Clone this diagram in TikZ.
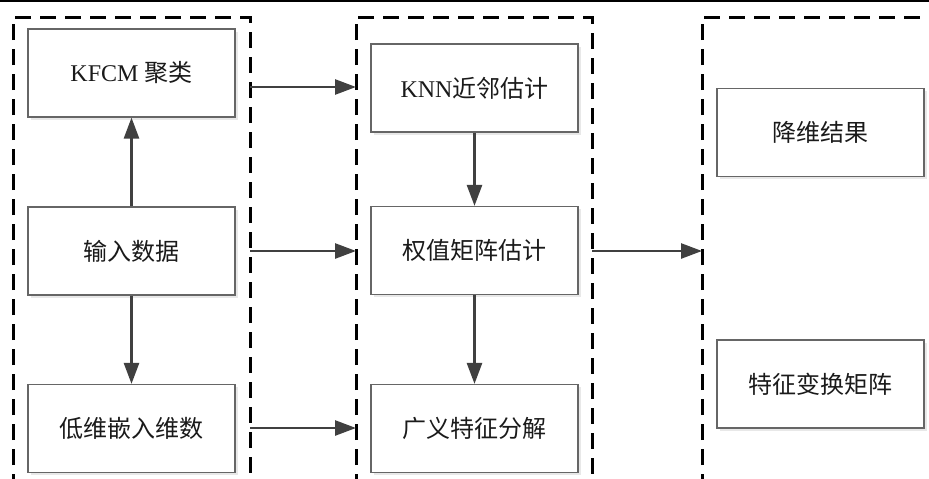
\documentclass[tikz,border=0pt]{standalone}
\usepackage{fontspec}
\setmainfont{Liberation Serif}
\newfontfamily\cjk{Noto Sans CJK SC}
\usetikzlibrary{arrows.meta,shadows}
\definecolor{boxgray}{HTML}{666666}
\definecolor{arrcol}{HTML}{404040}
\definecolor{textcol}{HTML}{1A1A1A}
\begin{document}
\begin{tikzpicture}[x=1pt,y=-1pt,
  box/.style={draw=boxgray, line width=1.2pt, fill=white,
    minimum width=207pt, minimum height=88pt, inner sep=0pt,
    font=\fontsize{24}{28}\selectfont, text=textcol,
    drop shadow={shadow xshift=2.5pt, shadow yshift=-2.5pt, fill=black!9, opacity=1}},
  frame/.style={draw=black, line width=3pt, dash pattern=on 16pt off 9pt},
  arr/.style={draw=arrcol, line width=2.6pt, -{Triangle[length=21pt,width=15pt]}}]
\useasboundingbox (0,0) rectangle (929,479);
\fill[white] (0,0) rectangle (929,479);
% top rule
\draw[line width=2pt] (0,1) -- (929,1);
% dashed frames
\draw[frame] (13,490) -- (13,17) -- (250,17) -- (250,490);
\draw[frame] (356,490) -- (356,17) -- (592,17) -- (592,490);
\draw[frame] (702,490) -- (702,17) -- (940,17);
% boxes
\node[box] (kfcm) at (131.5,73) {KFCM {\cjk 聚类}};
\node[box] (input) at (131.5,251) {\cjk 输入数据};
\node[box] (low) at (131.5,428.5) {\cjk 低维嵌入维数};
\node[box] (knn) at (474.5,88) {KNN{\cjk 近邻估计}};
\node[box] (weight) at (474.5,250.5) {\cjk 权值矩阵估计};
\node[box] (gen) at (474.5,428.5) {\cjk 广义特征分解};
\node[box] (res) at (820.5,132.5) {\cjk 降维结果};
\node[box] (trans) at (820.5,384) {\cjk 特征变换矩阵};
% vertical arrows
\draw[arr] (input.north) -- (kfcm.south);
\draw[arr] (input.south) -- (low.north);
\draw[arr] (knn.south) -- (weight.north);
\draw[arr] (weight.south) -- (gen.north);
% horizontal arrows between frames
\coordinate (l1) at (250,87);  \coordinate (m1) at (356,87);
\coordinate (l2) at (250,251); \coordinate (m2) at (356,251);
\coordinate (l3) at (250,428); \coordinate (m3) at (356,428);
\coordinate (r1) at (592,251); \coordinate (r2) at (702,251);
\draw[arr] (l1) -- (m1);
\draw[arr] (l2) -- (m2);
\draw[arr] (l3) -- (m3);
\draw[arr] (r1) -- (r2);
\end{tikzpicture}
\end{document}
